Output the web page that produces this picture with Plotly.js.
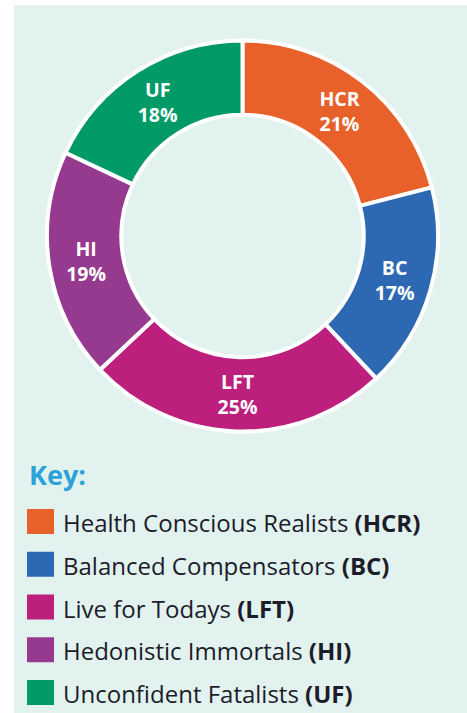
<!DOCTYPE html>
<html>
<head>
<meta charset="utf-8">
<script src="https://cdn.plot.ly/plotly-3.0.1.min.js"></script>
<style>html,body{margin:0;padding:0;background:#fff;}#chart{width:467px;height:713px;}</style>
</head>
<body>
<div id="chart"></div>
<script>
var abbrevs = ["HCR", "BC", "LFT", "HI", "UF"];
var names = ["Health Conscious Realists", "Balanced Compensators", "Live for Todays", "Hedonistic Immortals", "Unconfident Fatalists"];
var shares = [21, 17, 25, 19, 18];
var colors = ["#E8612B", "#2D68B2", "#BD1F7D", "#953A8E", "#009A67"];
var keyTitle = "Key:";

var W = 467, H = 713;
function px(x){ return x / W; }
function py(y){ return 1 - y / H; }

var trace = {
  type: "pie",
  labels: abbrevs,
  values: shares,
  customdata: names,
  sort: false,
  direction: "clockwise",
  rotation: 0,
  hole: 0.62,
  marker: { colors: colors, line: { color: "#ffffff", width: 4 } },
  texttemplate: "%{label}<br>%{value}%",
  textposition: "inside",
  insidetextorientation: "horizontal",
  textfont: { family: "Open Sans", size: 19.5, color: "#ffffff", weight: "bold" },
  domain: { x: [px(47), px(438)], y: [py(433), py(39)] },
  showlegend: false,
  hoverinfo: "skip"
};

var shapes = [{
  type: "rect", xref: "paper", yref: "paper", layer: "below",
  x0: px(14), x1: 1, y0: 0, y1: py(5),
  fillcolor: "#E2F2EF", line: { width: 0 }
}];
var annotations = [{
  xref: "paper", yref: "paper", x: px(27), y: py(474),
  xanchor: "left", yanchor: "middle", showarrow: false,
  text: "<b>" + keyTitle + "</b>",
  font: { family: "Open Sans", size: 27, color: "#2BA3D9" }
}];
for (var i = 0; i < abbrevs.length; i++) {
  var cy = 521.5 + i * 42.75;
  shapes.push({
    type: "rect", xref: "paper", yref: "paper",
    x0: px(27), x1: px(54), y0: py(cy + 12.5), y1: py(cy - 12.5),
    fillcolor: colors[i], line: { width: 0 }
  });
  annotations.push({
    xref: "paper", yref: "paper", x: px(61), y: py(cy + 1),
    xanchor: "left", yanchor: "middle", showarrow: false,
    text: names[i] + " <b>(" + abbrevs[i] + ")</b>",
    font: { family: "Open Sans", size: 24, color: "#1c1c2a" }
  });
}

var layout = {
  width: W, height: H,
  margin: { l: 0, r: 0, t: 0, b: 0 },
  paper_bgcolor: "#ffffff",
  shapes: shapes,
  annotations: annotations,
  showlegend: false
};
Plotly.newPlot("chart", [trace], layout, { displayModeBar: false, staticPlot: true });
</script>
</body>
</html>
